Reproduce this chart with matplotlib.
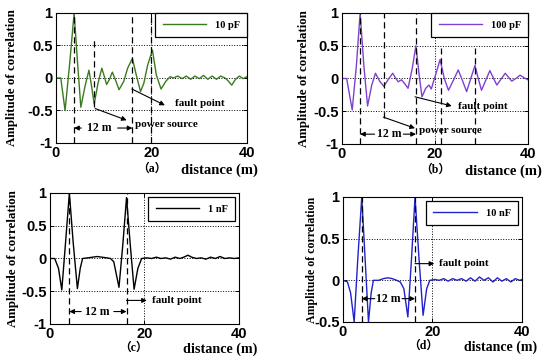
import matplotlib
matplotlib.use("Agg")
import matplotlib.pyplot as plt

# ---- curves (distance in m, amplitude) ----
A_X = [0, 1.0, 1.9, 2.9, 3.8, 4.5, 5.2, 6.1, 6.9, 7.5, 8.0, 8.8, 9.6, 10.1, 10.6,
       11.2, 11.8, 12.4, 13.2, 14.2, 15.0, 16.0, 16.8, 17.7, 18.4, 19.2, 20.2, 21.0,
       22.0, 23.0, 23.9, 24.6, 25.5, 26.4, 27.3, 28.2, 29.1, 30.0, 30.9, 31.8, 32.7,
       33.6, 34.5, 35.4, 36.0, 36.8, 37.6, 38.4, 39.2, 40.0]
A_Y = [0, 0, -0.5, 0.25, 1.0, 0.25, -0.45, -0.12, 0.12, -0.15, -0.4, -0.08, 0.15,
       0.03, -0.1, -0.02, 0.09, -0.02, -0.18, -0.05, 0.15, 0.3, 0.05, -0.21, -0.08,
       0.2, 0.43, 0.05, -0.17, -0.05, 0.02, 0.0, 0.03, -0.01, 0.03, -0.02, 0.03,
       -0.01, 0.04, -0.02, 0.03, -0.02, 0.03, 0.0, -0.04, -0.11, -0.02, 0.03, -0.01, 0.02]

B_X = [0, 1.0, 2.2, 3.1, 3.9, 4.7, 5.5, 6.4, 7.2, 8.1, 9.0, 9.9, 10.9, 11.6, 12.1,
       12.8, 13.5, 14.2, 15.1, 15.9, 16.6, 17.2, 18.0, 18.7, 19.2, 20.1, 21.1, 22.0,
       22.9, 24.0, 25.0, 25.9, 26.8, 27.7, 28.6, 29.3, 30.0, 30.9, 31.8, 32.6, 33.3,
       34.2, 35.1, 35.8, 36.5, 37.4, 38.3, 39.2, 40.0]
B_Y = [0, 0, -0.48, 0.2, 1.0, 0.2, -0.42, -0.1, 0.08, -0.04, -0.12, -0.02, 0.08, 0.0,
       -0.05, -0.02, -0.08, -0.15, 0.15, 0.5, 0.05, -0.28, -0.15, -0.1, -0.16, 0.05,
       0.29, 0.0, -0.18, -0.02, 0.13, -0.03, -0.2, 0.0, 0.2, 0.0, -0.18, -0.03, 0.12,
       0.0, -0.1, -0.01, 0.08, 0.02, -0.04, 0.0, 0.05, 0.01, -0.02]

C_X = [0, 1.0, 1.8, 2.5, 3.3, 4.1, 4.9, 5.8, 6.4, 6.9, 8.0, 9.0, 10.0, 11.0, 12.0,
       12.8, 13.5, 14.6, 15.4, 16.2, 17.0, 17.8, 18.6, 19.4, 20.5, 21.5, 22.5, 23.5,
       24.5, 25.5, 26.5, 27.5, 28.3, 29.2, 30.0, 31.0, 32.0, 33.0, 34.0, 35.0, 36.0,
       37.0, 38.0, 39.0, 40.0]
C_Y = [0, 0, -0.15, -0.48, 0.25, 1.0, 0.25, -0.46, -0.15, 0.0, 0.01, 0.02, 0.03, 0.02,
       0.01, 0.0, -0.05, -0.44, 0.2, 0.93, 0.2, -0.47, -0.15, 0.0, 0.01, 0.0, 0.02, 0.0,
       0.01, -0.01, 0.02, 0.0, 0.02, 0.05, 0.02, 0.0, 0.01, -0.01, 0.02, 0.0, 0.03, 0.0,
       0.01, 0.0, 0.01]

D_X = [0, 1.0, 1.7, 2.5, 3.3, 4.2, 5.0, 5.7, 6.3, 6.8, 8.0, 9.0, 10.0, 11.0, 12.0,
       12.8, 13.6, 14.5, 15.3, 16.1, 17.0, 17.9, 18.7, 19.4, 20.5, 21.5, 22.5, 23.5,
       24.5, 25.5, 26.5, 27.5, 28.5, 29.5, 30.5, 31.5, 32.5, 33.5, 34.5, 35.5, 36.5,
       37.5, 38.5, 39.5, 40.0]
D_Y = [0, -0.02, -0.15, -0.5, 0.25, 1.0, 0.2, -0.5, -0.15, 0.0, 0.0, 0.02, 0.03, 0.02,
       0.0, -0.02, -0.1, -0.44, 0.25, 1.0, 0.25, -0.42, -0.1, 0.0, 0.01, 0.0, 0.02,
       -0.01, 0.02, 0.0, 0.02, -0.01, 0.03, -0.01, 0.04, 0.0, 0.03, -0.02, 0.03, -0.01,
       0.02, -0.02, 0.02, 0.0, 0.01]

# marker lines (x position, bottom, top)
A_DASH = [3.8, 8.0, 16.0, 20.0]
A_DASH_LO = [-1, -0.45, -1, -1]
A_DASH_HI = [1, 0.62, 1, 1]
B_DASH = [3.9, 9.0, 15.9, 21.2, 28.6]
B_DASH_LO = [-1, -0.6, -1, -1, -1]
B_DASH_HI = [1, 1, 1, 0.47, 0.47]
C_DASH = [4.1, 16.2]
D_DASH = [4.2, 16.1]

X_TICKS = [0, 20, 40]
Y_TICKS = [-1, -0.5, 0, 0.5, 1]
Y_TICKLABELS = ["-1", "-0.5", "0", "0.5", "1"]
Y_TICKS_D = [-0.5, 0, 0.5, 1]
Y_TICKLABELS_D = ["-0.5", "0", "0.5", "1"]

SERIF = ["Liberation Serif", "Noto Sans CJK SC"]
SANS = ["Liberation Sans", "DejaVu Sans"]


def setup(rect, xs, ys, color, name, yticks, ylabels, tag, ylab_x, ylab_size,
          xlab_x, xlab_size, tag_x, lab_y, leg_pad):
    ax = fig.add_axes(rect)
    ax.plot(xs, ys, color=color, lw=1.0, label=name, solid_joinstyle="round")
    ax.set_xlim(0, 40)
    ax.set_ylim(yticks[0], yticks[-1])
    ax.set_xticks(X_TICKS)
    ax.set_xticklabels([str(t) for t in X_TICKS])
    ax.set_yticks(yticks)
    ax.set_yticklabels(ylabels)
    for lab in ax.get_xticklabels() + ax.get_yticklabels():
        lab.set_family(SANS)
        lab.set_fontweight("bold")
        lab.set_fontsize(10.5)
    ax.tick_params(direction="in", length=3, width=0.7, pad=2.5,
                   top=True, right=True)
    ax.grid(True, ls=":", color="k", lw=0.7)
    for s in ax.spines.values():
        s.set_linewidth(0.8)
    leg = ax.legend(loc="upper right", prop=dict(family=SERIF, weight="bold", size=7.5),
                    handlelength=4.2, fancybox=False, edgecolor="k", framealpha=1,
                    borderaxespad=leg_pad, borderpad=0.7)
    leg.get_frame().set_linewidth(0.9)
    ax.text(ylab_x, 0.5, "Amplitude of correlation", transform=ax.transAxes,
            rotation=90, ha="center", va="center", family=SERIF,
            fontweight="bold", fontsize=ylab_size)
    ax.text(xlab_x, lab_y, "distance (m)", transform=ax.transAxes, ha="right",
            va="center", family=SERIF, fontweight="bold", fontsize=xlab_size)
    ax.text(tag_x, lab_y + 0.01, tag, transform=ax.transAxes, ha="center",
            va="center", family=SERIF, fontweight="bold", fontsize=8.5)
    return ax


def arrow(ax, x0, y0, x1, y1):
    ax.annotate("", xy=(x1, y1), xytext=(x0, y0),
                arrowprops=dict(arrowstyle="-|>", color="k", lw=0.8,
                                mutation_scale=7, shrinkA=0, shrinkB=0))


def note(ax, x, y, s, ha="left", size=8):
    ax.text(x, y, s, ha=ha, va="center", family=SERIF, fontweight="bold", fontsize=size)


def span12(ax, xl, xr, tl, tr, xc, y):
    arrow(ax, tl, y, xl, y)
    arrow(ax, tr, y, xr, y)
    note(ax, xc, y, "12 m", ha="center", size=8.5)


DASH = dict(colors="k", linestyles=(0, (5, 3)), lw=0.9)

fig = plt.figure(figsize=(5.5, 3.58), dpi=100)

# --- (a) 10 pF ---
ax1 = setup([0.1018, 0.6006, 0.3473, 0.3631], A_X, A_Y, "#3c7a22", "10 pF",
            Y_TICKS, Y_TICKLABELS, "（a）", -0.23, 9.3, 1.058, 10.5, 0.5, -0.21, 0.0)
ax1.vlines(A_DASH, A_DASH_LO, A_DASH_HI, **DASH)
arrow(ax1, 8.2, -0.47, 14.8, -0.65)
note(ax1, 16.5, -0.72, "power source")
arrow(ax1, 15.9, -0.17, 22.8, -0.42)
note(ax1, 24.9, -0.39, "fault point")
span12(ax1, 3.8, 16.0, 5.3, 12.9, 9.1, -0.77)

# --- (b) 100 pF ---
ax2 = setup([0.6218, 0.5978, 0.3382, 0.3659], B_X, B_Y, "#8040d0", "100 pF",
            Y_TICKS, Y_TICKLABELS, "（b）", -0.205, 9.3, 1.075, 10.5, 0.5, -0.21, 0.0)
ax2.vlines(B_DASH, B_DASH_LO, B_DASH_HI, **DASH)
arrow(ax2, 15.7, -0.28, 23.6, -0.42)
note(ax2, 24.9, -0.43, "fault point")
arrow(ax2, 8.9, -0.59, 15.7, -0.76)
note(ax2, 16.6, -0.79, "power source")
span12(ax2, 3.9, 15.9, 7.0, 13.2, 10.1, -0.85)

# --- (c) 1 nF ---
ax3 = setup([0.0909, 0.0950, 0.3436, 0.3659], C_X, C_Y, "k", "1 nF",
            Y_TICKS, Y_TICKLABELS, "（c）", -0.194, 9.3, 1.1, 10.2, 0.44, -0.19, 0.4)
ax3.vlines(C_DASH, -1, 1, **DASH)
arrow(ax3, 16.2, -0.64, 20.5, -0.64)
note(ax3, 21.5, -0.64, "fault point")
span12(ax3, 4.1, 16.2, 6.6, 13.5, 10.0, -0.81)

# --- (d) 10 nF ---
ax4 = setup([0.6236, 0.1006, 0.3255, 0.3492], D_X, D_Y, "#2222cc", "10 nF",
            Y_TICKS_D, Y_TICKLABELS_D, "（d）", -0.175, 8.6, 1.084, 10.0, 0.447, -0.2, 0.4)
ax4.vlines(D_DASH, -0.5, 1, **DASH)
arrow(ax4, 16.1, 0.2, 20.4, 0.2)
note(ax4, 21.5, 0.2, "fault point")
span12(ax4, 4.2, 16.1, 7.1, 13.2, 10.1, -0.22)

fig.savefig("out.png", dpi=100, facecolor="white")
